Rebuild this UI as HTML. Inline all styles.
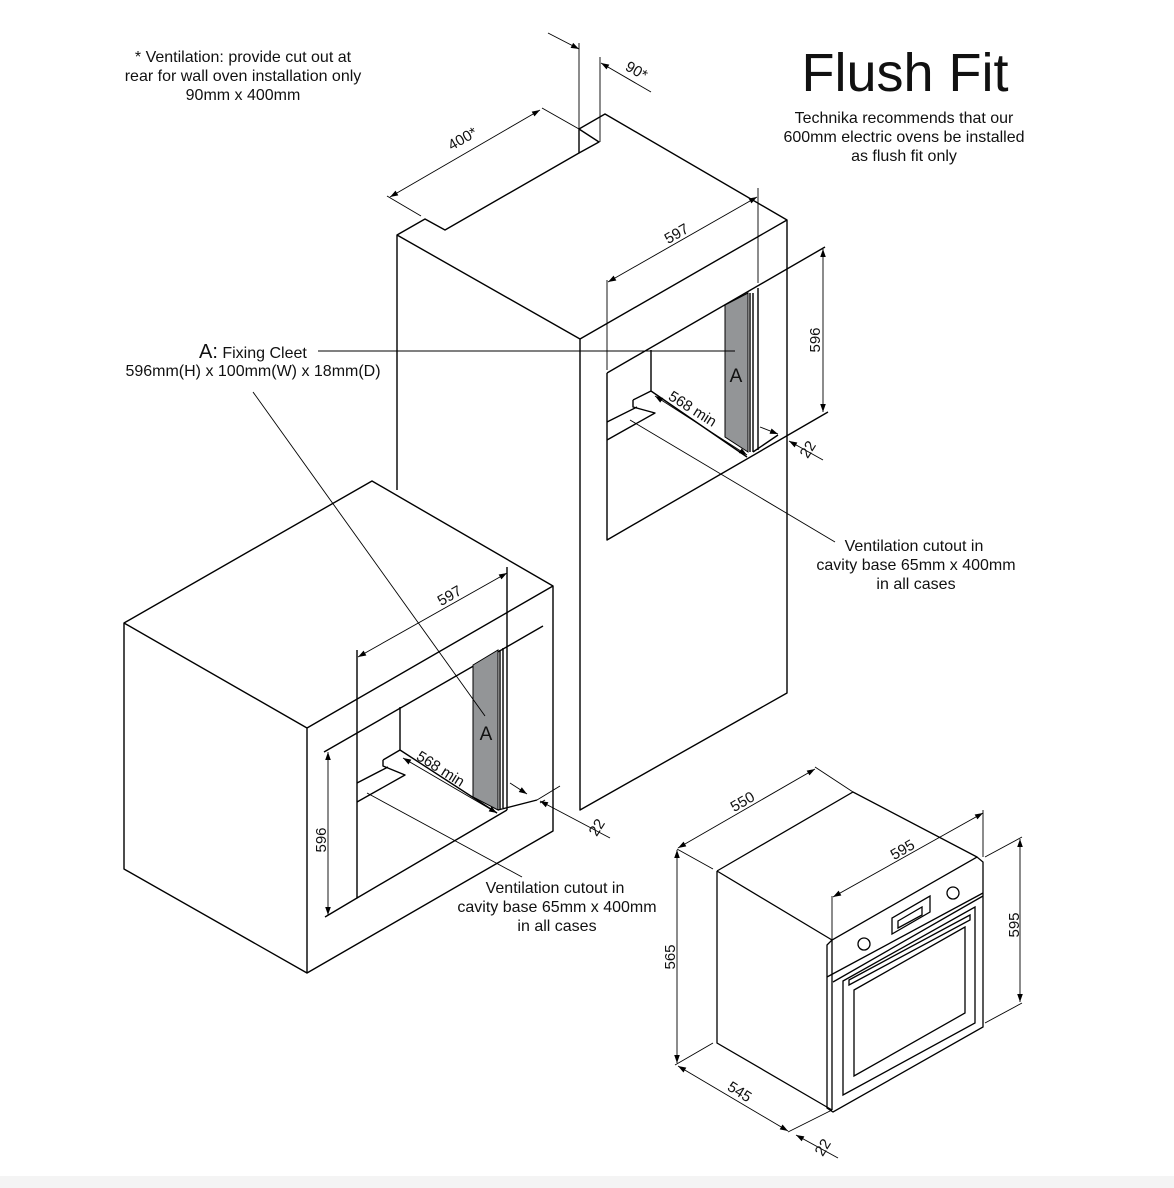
<!DOCTYPE html>
<html><head><meta charset="utf-8"><style>
html,body{margin:0;padding:0;background:#fff;}
svg{display:block;}
text{font-family:"Liberation Sans",Arial,sans-serif;fill:#111;}
</style></head><body>
<svg width="1174" height="1188" viewBox="0 0 1174 1188" xmlns="http://www.w3.org/2000/svg">
<defs>
<marker id="a" viewBox="0 0 10 10" refX="10" refY="5" markerWidth="12" markerHeight="8" markerUnits="userSpaceOnUse" orient="auto-start-reverse"><path d="M0,1.5 L10,5 L0,8.5 z" fill="#000"/></marker>
</defs>
<rect x="0" y="1176" width="1174" height="12" fill="#f4f4f4"/>
<g stroke="#000" stroke-width="1.4" fill="none" stroke-linejoin="round">
<path d="M397,490 L397,235 L425,219 L445,230 L579,153 L579,129 L605,114 L787,220 L787,693 L580,810 L580,339 L397,235"/>
<path d="M579,129 L599,142 L579,153"/>
<path d="M580,339 L787,220"/>
<path d="M607,373 L825,247"/>
<path d="M607,373 L607,540 L828,412"/>
<path d="M651,350 L651,391 L747,457"/>
<path d="M633,400 L633,407 L655,413 L607,440 M633,400 L651,391 M607,422 L637,407"/>
<path d="M753,452 L778,435"/>
<path d="M758,288 L758,450 M750,293 L750,452 M753,293 L753,452"/>
<path d="M124,623 L372,481 L553,586 L553,831 L307,973 L124,869 Z"/>
<path d="M124,623 L307,728 L553,586 M307,728 L307,973"/>
<path d="M324,752 L543,626"/>
<path d="M357,650 L357,898 L507,810"/>
<path d="M325,917 L357,898"/>
<path d="M400,707 L400,750 L497,813"/>
<path d="M383,760 L383,766 L405,775 L357,802 M383,760 L400,750 M357,783 L388,767"/>
<path d="M498,810 L537,800 M500,650 L500,810 M503,648 L503,808 M507,567 L507,810"/>
</g>
<polygon points="725,305 748,293 748,452 725,437" fill="#939597" stroke="#000" stroke-width="1"/>
<polygon points="473,665 498,650 498,810 473,797" fill="#939597" stroke="#000" stroke-width="1"/>
<text x="736" y="382" font-size="19" text-anchor="middle">A</text>
<text x="486" y="740" font-size="19" text-anchor="middle">A</text>

<g stroke="#000" stroke-width="1.3" fill="none">
<path d="M717,871 L853,792 L977,857 M717,871 L832,940 M717,871 L717,1043 L832,1110"/>
<path d="M827,945 L832,940 L977,857 L983,862 L983,1027 L833,1112 L827,1108 L827,945 Z"/>
<path d="M832,940 L832,1110"/>
<path d="M827,977 L983,893"/>
<path d="M833,982 L983,896"/>
<path d="M843,981 L975,907 L975,1023 L843,1095 Z"/>
<path d="M854,990 L965,927 L965,1013 L854,1076 Z"/>
<path d="M849,980 L970,915 L970,920 L849,985 Z"/>
<path d="M892,918 L930,896 L930,912 L892,934 Z M898,921 L922,907 L922,915 L898,928 Z"/>
<circle cx="864" cy="944" r="6"/><circle cx="953" cy="893" r="6"/>
</g>

<g stroke="#000" stroke-width="0.9" fill="none">
<path d="M387,196 L421,216 M542,108 L579,129"/>
<path d="M390,197 L540,110" marker-start="url(#a)" marker-end="url(#a)"/>
<path d="M579,43 L579,129 M600,57 L600,142"/>
<path d="M548,33 L579,49" marker-end="url(#a)"/>
<path d="M651,92 L601,63" marker-end="url(#a)"/>
<path d="M607,280 L607,370 M758,188 L758,283"/>
<path d="M608,282 L757,197" marker-start="url(#a)" marker-end="url(#a)"/>
<path d="M823,249 L823,412" marker-start="url(#a)" marker-end="url(#a)"/>
<path d="M760,427 L778,434" marker-end="url(#a)"/>
<path d="M823,460 L789,441" marker-end="url(#a)"/>
<path d="M655,396 L747,455" marker-start="url(#a)" marker-end="url(#a)"/>
<path d="M318,351 L735,351"/>
<path d="M253,392 L485,716"/>
<path d="M630,420 L835,542"/>
<path d="M367,793 L522,877"/>
<path d="M358,657 L507,573" marker-start="url(#a)" marker-end="url(#a)"/>
<path d="M328,752 L328,915" marker-start="url(#a)" marker-end="url(#a)"/>
<path d="M403,758 L497,813" marker-start="url(#a)" marker-end="url(#a)"/>
<path d="M510,783 L527,794" marker-end="url(#a)"/>
<path d="M537,800 L560,786 M540,803 L545,800"/>
<path d="M610,838 L540,801" marker-end="url(#a)"/>
<path d="M677,849 L713,869 M815,767 L853,792"/>
<path d="M678,848 L815,769" marker-start="url(#a)" marker-end="url(#a)"/>
<path d="M832,896 L832,940 M983,810 L983,857"/>
<path d="M833,897 L983,813" marker-start="url(#a)" marker-end="url(#a)"/>
<path d="M985,857 L1022,837 M985,1023 L1022,1003"/>
<path d="M1020,839 L1020,1002" marker-start="url(#a)" marker-end="url(#a)"/>
<path d="M677,850 L677,1063" marker-start="url(#a)" marker-end="url(#a)"/>
<path d="M675,1065 L713,1043 M788,1132 L832,1110"/>
<path d="M678,1066 L788,1131" marker-start="url(#a)" marker-end="url(#a)"/>
<path d="M838,1158 L796,1135" marker-end="url(#a)"/>
</g>

<g font-size="15">
<text transform="translate(465,143) rotate(-30)" text-anchor="middle">400*</text>
<text transform="translate(634,75) rotate(30)" text-anchor="middle">90*</text>
<text transform="translate(679,238) rotate(-30)" text-anchor="middle">597</text>
<text transform="translate(820,340) rotate(-90)" text-anchor="middle">596</text>
<text transform="translate(690,413) rotate(32)" text-anchor="middle">568 min</text>
<text transform="translate(812,452) rotate(-58)" text-anchor="middle">22</text>
<text transform="translate(452,600) rotate(-30)" text-anchor="middle">597</text>
<text transform="translate(326,840) rotate(-90)" text-anchor="middle">596</text>
<text transform="translate(438,773) rotate(32)" text-anchor="middle">568 min</text>
<text transform="translate(601,830) rotate(-58)" text-anchor="middle">22</text>
<text transform="translate(745,806) rotate(-30)" text-anchor="middle">550</text>
<text transform="translate(905,854) rotate(-30)" text-anchor="middle">595</text>
<text transform="translate(1019,925) rotate(-90)" text-anchor="middle">595</text>
<text transform="translate(675,957) rotate(-90)" text-anchor="middle">565</text>
<text transform="translate(737,1096) rotate(32)" text-anchor="middle">545</text>
<text transform="translate(827,1150) rotate(-58)" text-anchor="middle">22</text>
</g>

<g font-size="16" text-anchor="middle">
<text x="243" y="62">* Ventilation: provide cut out at</text>
<text x="243" y="81">rear for wall oven installation only</text>
<text x="243" y="100">90mm x 400mm</text>
<text x="904" y="123">Technika recommends that our</text>
<text x="904" y="142">600mm electric ovens be installed</text>
<text x="904" y="161">as flush fit only</text>
<text x="914" y="551">Ventilation cutout in</text>
<text x="916" y="570">cavity base 65mm x 400mm</text>
<text x="916" y="589">in all cases</text>
<text x="555" y="893">Ventilation cutout in</text>
<text x="557" y="912">cavity base 65mm x 400mm</text>
<text x="557" y="931">in all cases</text>
<text x="253" y="376">596mm(H) x 100mm(W) x 18mm(D)</text>
</g>
<text x="199" y="358" font-size="20">A:<tspan font-size="16"> Fixing Cleet</tspan></text>
<text x="905" y="91" font-size="54" text-anchor="middle">Flush Fit</text>
</svg>
</body></html>
